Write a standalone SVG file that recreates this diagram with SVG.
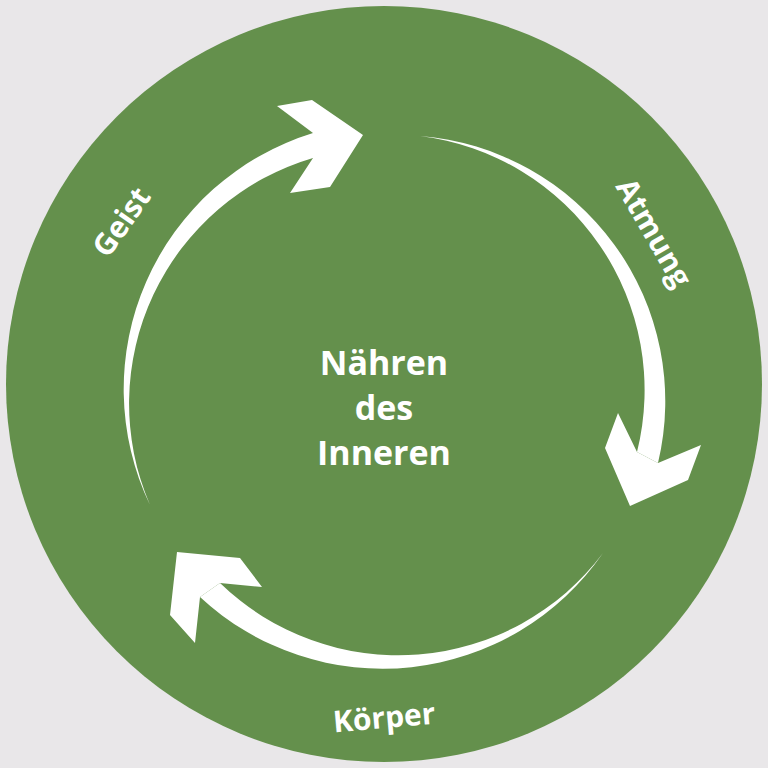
<svg xmlns="http://www.w3.org/2000/svg" width="768" height="768" viewBox="0 0 768 768">
<style>
.a{fill:#fff}
.t{fill:#fff;font-family:"Open Sans","Liberation Sans",sans-serif;font-weight:700;text-anchor:middle}
</style>
<rect width="768" height="768" fill="#e9e7e9"/>
<circle cx="384" cy="384" r="378" fill="#64904c"/>
<g id="connectors">
<g id="arrow-geist" class="a">
<path d="M150,505 A268,268 0 0 1 313,133 L313,158 A256,256 0 0 0 150,505 Z"/>
<polygon points="277,106 312,100 363,135 330,187 290,193 313,158 313,133"/>
</g>
<g id="arrow-atmung" class="a">
<path d="M420,136 A266,266 0 0 1 658,463 L637,452 A256,256 0 0 0 420,136 Z"/>
<polygon points="618,413 605,448 630,506 688,480 701,445 658,463 637,452"/>
</g>
<g id="arrow-koerper" class="a">
<path d="M603,553 A268,268 0 0 1 200,597 L220,583 A256,256 0 0 0 603,553 Z"/>
<polygon points="177,552 240,558 262,587 220,583 200,597 195,643 170,615"/>
</g>
</g>
<g id="center"><text class="t" font-size="34" x="384" y="375">Nähren</text><text class="t" font-size="34" x="384" y="420">des</text><text class="t" font-size="34" x="384" y="465">Inneren</text></g>
<g id="geist"><text class="t" font-size="30" transform="translate(130,228) rotate(-55)">Geist</text></g>
<g id="atmung"><text class="t" font-size="30" transform="translate(645,238) rotate(60)">Atmung</text></g>
<g id="koerper"><text class="t" font-size="30" transform="translate(385,728) rotate(-5)">Körper</text></g>
</svg>
